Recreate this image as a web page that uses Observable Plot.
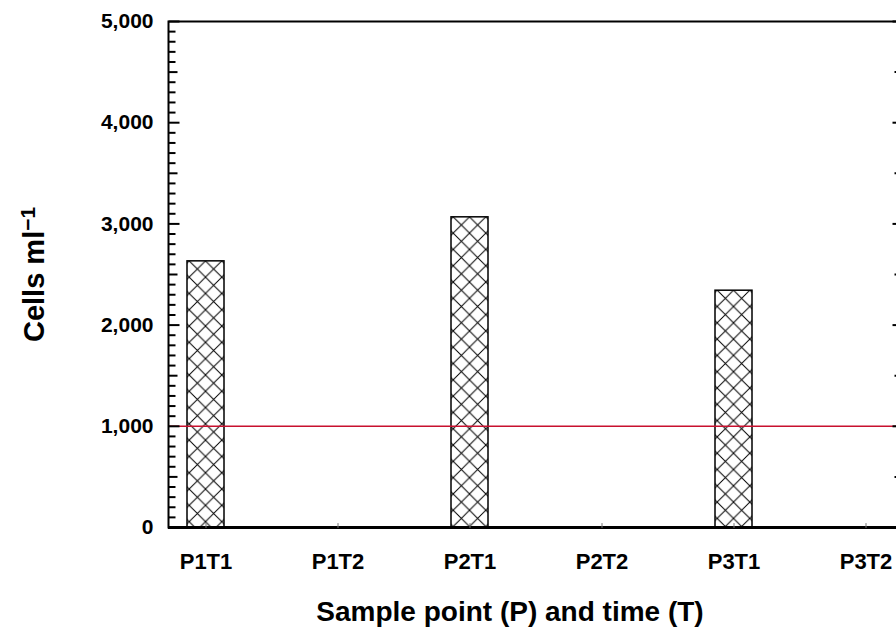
<!DOCTYPE html>
<html><head><meta charset="utf-8">
<script src="https://cdn.jsdelivr.net/npm/d3@7"></script>
<script src="https://cdn.jsdelivr.net/npm/@observablehq/plot@0.6"></script>
<style>
html,body{margin:0;padding:0;overflow:hidden;background:#fff;}
svg{display:block;}
</style></head><body><div id="chart"></div>
<script>
// ---- data ----
const categories = ["P1T1", "P1T2", "P2T1", "P2T2", "P3T1", "P3T2"];
const cellCounts = [2630, null, 3065, null, 2340, null];
const yLabelTicks = [0, 1000, 2000, 3000, 4000, 5000];
const yHalfTicks = [500, 1500, 2500, 3500, 4500];
const yMinorTicks = [100,200,300,400,600,700,800,900,1100,1200,1300,1400,1600,1700,1800,1900,
  2100,2200,2300,2400,2600,2700,2800,2900,3100,3200,3300,3400,3600,3700,3800,3900,
  4100,4200,4300,4400,4600,4700,4800,4900];
const thresholdValue = [1000];
const xTitle = "Sample point (P) and time (T)";
const yTitle = "Cells ml";
const yTitleSup = "\u22121";

const rows = categories.map((c, i) => ({sample: c, cells: cellCounts[i]}));
const bars = rows.filter(d => d.cells != null);

const tickShape = {draw(context, l) { context.moveTo(0, 0); context.lineTo(0, -l); }};
const font = "'Liberation Sans', Arial, Helvetica, sans-serif";
const tickStyle = {anchor: "start", shape: tickShape, stroke: "black", strokeWidth: 2, strokeLinecap: "butt"};

const plot = Plot.plot({
  width: 896, height: 629,
  marginLeft: 168, marginRight: -7, marginTop: 21, marginBottom: 102,
  style: {fontFamily: font, background: "white", color: "black"},
  x: {type: "band", domain: categories, paddingInner: 0.7205, paddingOuter: 0.136, axis: null, label: null},
  y: {domain: [0, 5000], axis: null, label: null},
  marks: [
    Plot.barY(bars, {x: "sample", y: "cells", fill: "white", stroke: "black", strokeWidth: 1.5}),
    Plot.ruleY(thresholdValue, {stroke: "#c8102e", strokeWidth: 1.5}),
    Plot.frame({stroke: "black", strokeWidth: 2}),
    Plot.ruleY([0], {stroke: "black", strokeWidth: 3}),
    // left inward ticks
    Plot.vector(yMinorTicks, {y: d => d, frameAnchor: "left", length: 7, rotate: 90, ...tickStyle}),
    Plot.vector(yHalfTicks, {y: d => d, frameAnchor: "left", length: 9, rotate: 90, ...tickStyle}),
    Plot.vector(yLabelTicks, {y: d => d, frameAnchor: "left", length: 11, rotate: 90, ...tickStyle}),
    // right inward ticks
    Plot.vector(yHalfTicks, {y: d => d, frameAnchor: "right", length: 9, rotate: -90, ...tickStyle}),
    Plot.vector(yLabelTicks, {y: d => d, frameAnchor: "right", length: 11, rotate: -90, ...tickStyle}),
    // x small ticks
    Plot.vector(categories, {x: d => d, frameAnchor: "bottom", length: 4, rotate: 0, anchor: "start", shape: tickShape, stroke: "#777", strokeWidth: 1}),
    Plot.axisY(yLabelTicks, {tickSize: 0, tickPadding: 15, fontSize: 21, fontWeight: "bold", tickFormat: d3.format(","), fill: "black", label: null}),
    Plot.axisX(categories, {tickSize: 0, tickPadding: 26, fontSize: 22, fontWeight: "bold", fill: "black", label: null}),
    Plot.text([xTitle], {frameAnchor: "bottom", dx: -26, dy: 85, lineAnchor: "middle", textAnchor: "middle", text: d => d, fontSize: 28, fontWeight: "bold", fill: "black"}),
    Plot.text([yTitle], {frameAnchor: "left", dx: -134, rotate: -90, textAnchor: "middle", lineAnchor: "middle", text: d => d, fontSize: 29, fontWeight: "bold", fill: "black"})
  ]
});
document.getElementById("chart").appendChild(plot);

// hatch patterns aligned per bar
const svg = d3.select(plot);
const defs = svg.insert("defs", ":first-child");
const tile = 16.3;
svg.selectAll('g[aria-label="bar"] rect').each(function(_, i) {
  const r = d3.select(this);
  const x = +r.attr("x"), y = +r.attr("y"), w = +r.attr("width");
  const id = "hatch" + i;
  const p = defs.append("pattern").attr("id", id).attr("patternUnits", "userSpaceOnUse")
    .attr("x", x + w / 2).attr("y", y).attr("width", tile).attr("height", tile);
  p.append("rect").attr("width", tile).attr("height", tile).attr("fill", "white");
  p.append("path").attr("d", `M0,0L${tile},${tile}M${tile},0L0,${tile}`)
    .attr("stroke", "black").attr("stroke-width", 1).attr("fill", "none");
  r.attr("fill", `url(#${id})`);
});

// superscript on the y title
svg.selectAll('g[aria-label="text"] text').each(function() {
  const t = d3.select(this);
  if (t.text() === yTitle) {
    t.append("tspan").attr("dy", "-0.42em").attr("font-size", "0.72em").text(yTitleSup);
  }
});
</script></body></html>
